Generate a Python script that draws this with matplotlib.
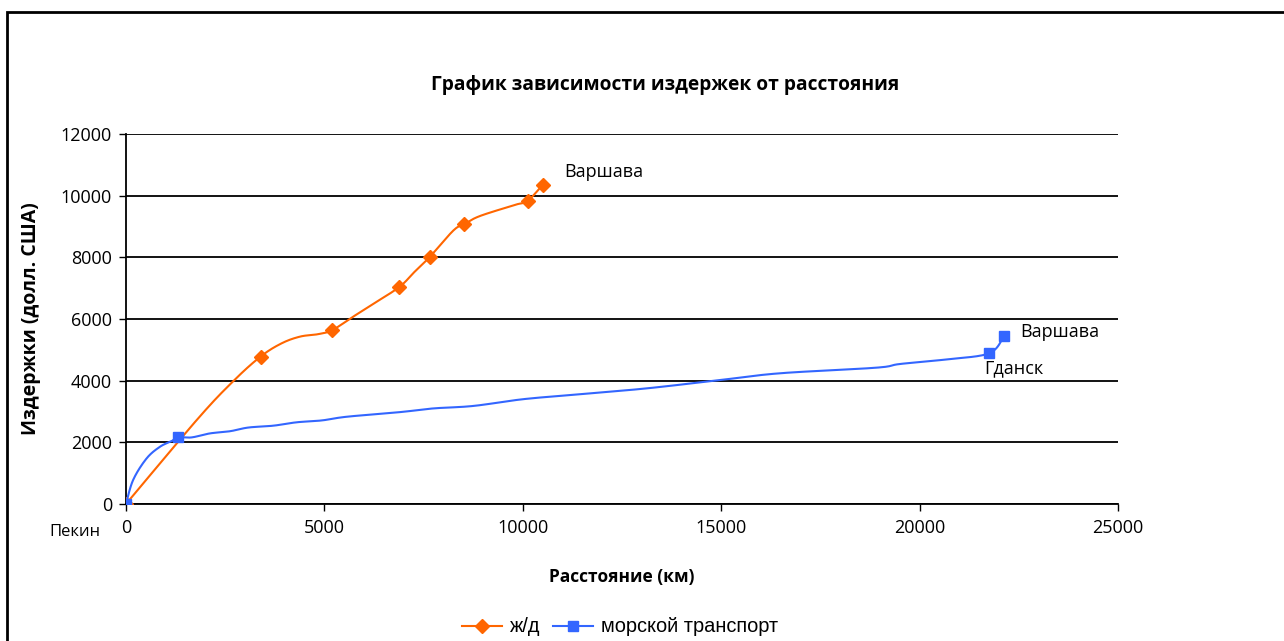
import numpy as np
import matplotlib
matplotlib.use("Agg")
import matplotlib.pyplot as plt
from matplotlib.patches import Rectangle

plt.rcParams['font.family'] = ['Open Sans', 'DejaVu Sans']

# Rail route: distance from Beijing (km) and accumulated cost (USD)
rail_km = [0, 1800, 2700, 3390, 3920, 4390, 4850, 5200, 5730, 6230, 6890,
           7280, 7660, 8250, 8530, 8920, 9800, 10120, 10500]
rail_cost = [0, 2750, 3980, 4780, 5210, 5430, 5510, 5640, 6080, 6490, 7040,
             7540, 8020, 8870, 9080, 9340, 9700, 9830, 10350]
rail_marked = [0, 3, 7, 10, 12, 14, 17, 18]

# Sea route (via Gdansk)
sea_km = [0, 180, 520, 860, 1150, 1302, 1655, 2117, 2621, 3083, 3713, 4301,
          4932, 5561, 6905, 7745, 8753, 10013, 11441, 13122, 14970, 16482,
          18900, 19500, 20682, 21757, 22127]
sea_cost = [0, 780, 1480, 1860, 2040, 2160, 2160, 2290, 2360, 2480, 2540,
            2650, 2710, 2830, 2980, 3100, 3180, 3400, 3560, 3750, 4020, 4240,
            4420, 4540, 4690, 4890, 5450]
sea_marked = [0, 5, 25, 26]

title = "График зависимости издержек от расстояния"
x_label = "Расстояние (км)"
y_label = "Издержки (долл. США)"
y_ticks = [0, 2000, 4000, 6000, 8000, 10000, 12000]
x_ticks = [0, 5000, 10000, 15000, 20000, 25000]
series_names = ["ж/д", "морской транспорт"]


def smooth(xs, ys, n=24):
    """Bezier smoothing through the points (Catmull-Rom style control points)."""
    p = np.column_stack([xs, ys]).astype(float)
    ext = np.vstack([p[0], p, p[-1]])
    out = [p[0]]
    t = np.linspace(0, 1, n)[1:, None]
    for i in range(1, len(ext) - 2):
        p0, p1, p2, p3 = ext[i - 1], ext[i], ext[i + 1], ext[i + 2]
        c1 = p1 + (p2 - p0) / 6.0
        c2 = p2 - (p3 - p1) / 6.0
        seg = ((1 - t) ** 3) * p1 + 3 * ((1 - t) ** 2) * t * c1 \
            + 3 * (1 - t) * t ** 2 * c2 + t ** 3 * p2
        out.extend(seg)
    out = np.array(out)
    return out[:, 0], out[:, 1]


W, H = 1284, 641
fig = plt.figure(figsize=(W / 100, H / 100), dpi=100)
ax = fig.add_axes([126 / W, 1 - 504 / H, (1118 - 126) / W, (504 - 134) / H])

orange = "#FF6600"
blue = "#3366FF"

rx, ry = smooth(rail_km, rail_cost)
sx, sy = smooth(sea_km, sea_cost)
ax.plot(rx, ry, color=orange, lw=1.5, zorder=3)
ax.plot(np.array(rail_km)[rail_marked], np.array(rail_cost)[rail_marked],
        ls="none", marker="D", ms=7, color=orange, zorder=4)
ax.plot(sx, sy, color=blue, lw=1.5, zorder=5)
ax.plot(np.array(sea_km)[sea_marked], np.array(sea_cost)[sea_marked],
        ls="none", marker="s", ms=7, color=blue, zorder=6)

ax.set_xlim(0, 25000)
ax.set_ylim(0, 12000)
ax.set_xticks(x_ticks)
ax.set_yticks(y_ticks)
ax.tick_params(axis="both", direction="out", length=5, width=1, color="black",
               labelsize=13)
ax.tick_params(axis="y", pad=5)
ax.tick_params(axis="x", pad=6)
ax.grid(axis="y", color="black", lw=1.3)
ax.set_axisbelow(True)
for side in ("top", "right"):
    ax.spines[side].set_visible(False)
for side in ("left", "bottom"):
    ax.spines[side].set_linewidth(1.3)
    ax.spines[side].set_color("black")

ax.set_xlabel(x_label, fontsize=12.5, fontweight="bold", labelpad=22)
ax.set_ylabel(y_label, fontsize=14, fontweight="bold", labelpad=14)
fig.text(665 / W, 1 - 85 / H, title, fontsize=13.8, fontweight="bold",
         ha="center", va="center")

# Point labels
ax.annotate("Варшава", (rail_km[-1], rail_cost[-1]), xytext=(15.5, 9),
            textcoords="offset points", fontsize=13, va="center", ha="left")
ax.annotate("Варшава", (sea_km[-1], sea_cost[-1]), xytext=(12, 3),
            textcoords="offset points", fontsize=13, va="center", ha="left")
ax.annotate("Гданск", (sea_km[-2], sea_cost[-2]), xytext=(-4, -11),
            textcoords="offset points", fontsize=13, va="center", ha="left")
ax.annotate("Пекин", (0, 0), xytext=(-37, -20), textcoords="offset points",
            fontsize=12, va="center", ha="center", annotation_clip=False)

# Legend
h1, = ax.plot([], [], color=orange, lw=1.5, marker="D", ms=7)
h2, = ax.plot([], [], color=blue, lw=1.5, marker="s", ms=7)
fig.legend([h1, h2], series_names, loc="center", bbox_to_anchor=(620 / W, 1 - 627 / H),
           ncol=2, frameon=False, handlelength=2.0, columnspacing=0.6,
           handletextpad=0.4, prop={"family": ["Liberation Sans", "DejaVu Sans"], "size": 14.4})

# Chart frame
fig.add_artist(Rectangle((7 / W, -0.2), 1.2, 1 - 12 / H + 0.2, transform=fig.transFigure,
                         fill=False, edgecolor="black", lw=2))

fig.savefig("out.png", dpi=100)
